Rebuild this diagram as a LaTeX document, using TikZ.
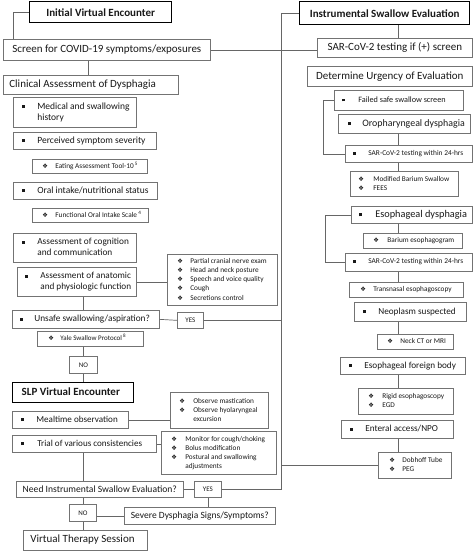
\documentclass[tikz,border=0pt]{standalone}
\usepackage{fontspec}
\setmainfont{Carlito}
\newfontfamily\dejavu{DejaVu Sans}
\newcommand\sqb[1]{\makebox[#1][l]{\rule[0.2ex]{2.8pt}{2.8pt}}}
\newcommand\dmb[1]{\makebox[#1][l]{\dejavu\fontsize{6.3}{6}\selectfont ❖}}
\newcommand\fsz[2]{\fontsize{#1}{#2}\selectfont}
\tikzset{
  box/.style={draw=black!55, line width=0.7pt, inner ysep=0pt, text=black!90, rectangle},
  hdr/.style={draw=black, line width=1.4pt, font=\bfseries\fsz{11}{13}},
  ln/.style={draw=black!60, line width=0.7pt},
}
% centered box: name x1 y1 x2 y2 options text
\newcommand\cbx[7]{\node[box,#6,anchor=north west,minimum width={#4-#2},minimum height={#5-#3}] (#1) at (#2,#3) {#7};}
% left box: name x1 y1 x2 y2 pad options lines
\newcommand\lbx[8]{\node[box,#7,anchor=north west,minimum width={#4-#2},minimum height={#5-#3},inner xsep=0pt] (#1) at (#2,#3) {\makebox[\dimexpr #4pt-#2pt\relax][l]{\hspace*{#6pt}\begin{tabular}{@{}l@{}}#8\end{tabular}}};}
\begin{document}
\begin{tikzpicture}[x=1pt,y=-1pt]
\useasboundingbox (0,0) rectangle (474,552);
\fill[white] (0,0) rectangle (474,552);
% ---------- left column
\cbx{ive}{29}{1}{171}{22}{hdr}{Initial Virtual Encounter}
\cbx{scr}{3}{39}{210}{60}{font=\fsz{11}{13}}{Screen for COVID-19 symptoms/exposures}
\lbx{cli}{3}{75}{178}{94}{6}{font=\fsz{11}{13}}{Clinical Assessment of Dysphagia}
\lbx{med}{13}{97}{136}{127}{9}{font=\fsz{9.5}{11}}{\sqb{15pt}Medical and swallowing\\\hspace*{15pt}history}
\lbx{per}{13}{132}{156}{149}{9}{font=\fsz{9.5}{11}}{\sqb{15pt}Perceived symptom severity}
\lbx{eat}{32}{159}{147}{173}{10}{font=\fsz{7.3}{8}}{\dmb{13pt}Eating Assessment Tool-10\,\textsuperscript{5}}
\lbx{ora}{13}{182}{157}{199}{9}{font=\fsz{9.5}{11}}{\sqb{15pt}Oral intake/nutritional status}
\lbx{foi}{32}{208}{148}{222}{10}{font=\fsz{7.3}{8}}{\dmb{13pt}Functional Oral Intake Scale\,\textsuperscript{4}}
\lbx{cog}{13}{233}{136}{262}{9}{font=\fsz{9.3}{11}}{\sqb{15pt}Assessment of cognition\\\hspace*{15pt}and communication}
\lbx{ana}{17}{267}{136}{296}{8}{font=\fsz{9.2}{11}}{\sqb{15pt}Assessment of anatomic\\\hspace*{15pt}and physiologic function}
\lbx{cra}{167}{254}{277}{305}{10}{font=\fsz{7.3}{9.2}}{\dmb{13pt}Partial cranial nerve exam\\\dmb{13pt}Head and neck posture\\\dmb{13pt}Speech and voice quality\\\dmb{13pt}Cough\\\dmb{13pt}Secretions control}
\lbx{uns}{12}{310}{159}{328}{8}{font=\fsz{9.3}{11}}{\sqb{14pt}Unsafe swallowing/aspiration?}
\cbx{yes1}{177}{312}{203}{328}{font=\fsz{7}{8}}{YES}
\lbx{yal}{37}{331}{143}{346}{11}{font=\fsz{7}{8}}{\dmb{12pt}Yale Swallow Protocol\,\textsuperscript{8}}
\cbx{no1}{69}{356}{97}{373}{font=\fsz{7}{8}}{NO}
\lbx{slp}{12}{382}{133}{402}{9}{hdr}{SLP Virtual Encounter}
\lbx{mea}{12}{411}{128}{428}{9}{font=\fsz{9.1}{11}}{\sqb{15pt}Mealtime observation}
\lbx{obs}{170}{392}{268}{428}{9}{font=\fsz{7.3}{9}}{\dmb{14pt}Observe mastication\\\dmb{14pt}Observe hyolaryngeal\\\hspace*{14pt}excursion}
\lbx{tri}{12}{435}{156}{452}{9}{font=\fsz{9.1}{11}}{\sqb{16pt}Trial of various consistencies}
\lbx{mon}{161}{431}{276}{474}{10}{font=\fsz{7.3}{9}}{\dmb{14pt}Monitor for cough/choking\\\dmb{14pt}Bolus modification\\\dmb{14pt}Postural and swallowing\\\hspace*{14pt}adjustments}
\cbx{need}{16}{481}{183}{497}{font=\fsz{9.6}{11}}{Need Instrumental Swallow Evaluation?}
\cbx{yes2}{194}{481}{221}{497}{font=\fsz{7}{8}}{YES}
\cbx{sev}{124}{507}{275}{524}{font=\fsz{9.5}{11}}{Severe Dysphagia Signs/Symptoms?}
\cbx{no2}{69}{504}{96}{521}{font=\fsz{7}{8}}{NO}
\lbx{vts}{23}{530}{147}{550}{7}{font=\fsz{11}{13}}{Virtual Therapy Session}
% ---------- right column
\cbx{ise}{299}{1}{469}{24}{hdr}{Instrumental Swallow Evaluation}
\cbx{sarp}{317}{38}{472}{57}{font=\fsz{11}{13}}{SAR-CoV-2 testing if (+) screen}
\cbx{det}{307}{66}{472}{86}{font=\fsz{11}{13}}{Determine Urgency of Evaluation}
\lbx{fai}{334}{90}{463}{110}{8}{font=\fsz{8.2}{9}}{\sqb{16pt}Failed safe swallow screen}
\lbx{oro}{338}{114}{470}{133}{10}{font=\fsz{9.9}{11}}{\sqb{14pt}Oropharyngeal dysphagia}
\lbx{sa}{345}{145}{472}{162}{8}{font=\fsz{7.4}{8}}{\sqb{15pt}SAR-CoV-2 testing within 24-hrs}
\lbx{mod}{350}{171}{458}{196}{8}{font=\fsz{7.3}{9}}{\dmb{15pt}Modified Barium Swallow\\\dmb{15pt}FEES}
\lbx{eso}{351}{206}{472}{223}{8}{font=\fsz{10.3}{12}}{\sqb{16pt}Esophageal dysphagia}
\lbx{bar}{363}{233}{462}{248}{10}{font=\fsz{7.3}{8}}{\dmb{14pt}Barium esophagogram}
\lbx{sb}{345}{253}{472}{271}{8}{font=\fsz{7.4}{8}}{\sqb{15pt}SAR-CoV-2 testing within 24-hrs}
\lbx{tra}{349}{282}{463}{297}{11}{font=\fsz{7.3}{8}}{\dmb{13pt}Transnasal esophagoscopy}
\lbx{neo}{354}{302}{466}{321}{9}{font=\fsz{9.2}{11}}{\sqb{15pt}Neoplasm suspected}
\lbx{nec}{377}{334}{453}{349}{10}{font=\fsz{7.3}{8}}{\dmb{13pt}Neck CT or MRI}
\lbx{efb}{340}{357}{465}{374}{9}{font=\fsz{9.2}{11}}{\sqb{15pt}Esophageal foreign body}
\lbx{rig}{358}{388}{453}{414}{10}{font=\fsz{7.3}{9}}{\dmb{14pt}Rigid esophagoscopy\\\dmb{14pt}EGD}
\lbx{ent}{341}{420}{453}{438}{9}{font=\fsz{9.2}{11}}{\sqb{15pt}Enteral access/NPO}
\lbx{dob}{378}{452}{451}{478}{11}{font=\fsz{7.3}{9}}{\dmb{13pt}Dobhoff Tube\\\dmb{13pt}PEG}
% ---------- helper coordinates
\coordinate (sp) at (281,0);
\coordinate (rc) at (398,0);
\coordinate (lc) at (83,0);
\coordinate (c88) at (88,0);
\coordinate (c323) at (323,0);
\coordinate (c325) at (325,0);
% ---------- connectors, left
\draw[ln] (ive.west) -| ([xshift=10]scr.north west);
\draw[ln] (scr.east) -- (scr.east -| sarp.west);
\draw[ln] (scr.south -| c88) -- (cli.north -| c88);
\draw[ln] (ana.east) -- (ana.east -| cra.west);
\draw[ln] (ana.south -| lc) -- (uns.north -| lc);
\draw[ln] (uns.east) -- (yes1.west);
\draw[ln] (yes1.east) -- (yes1.east -| sp);
\draw[ln] (yal.south -| lc) -- (no1.north -| lc);
\draw[ln] (no1.south -| lc) -- (slp.north -| lc);
\draw[ln] (mea.east) -- (mea.east -| obs.west);
\draw[ln] (tri.east) -- (tri.east -| mon.west);
\draw[ln] (tri.south -| lc) -- (need.north -| lc);
\draw[ln] (need.east) -- (yes2.west);
\draw[ln] (ise.west) -| (yes2.east -| sp) -- (yes2.east);
\draw[ln] (yes2.south) -- (yes2.south |- sev.north);
\draw[ln] (need.south -| lc) -- (no2.north -| lc);
\draw[ln] (no2.south -| lc) -- (vts.north -| lc);
\draw[ln] (sev.west -| no2.east) -- (sev.west);
\draw[ln] (dob.west -| sp) -- (dob.west);
% ---------- connectors, right
\draw[ln] (ise.south -| rc) -- (sarp.north -| rc);
\draw[ln] (fai.west) -- (fai.west -| c323) -- (c323 |- sa.west) -- (sa.west);
\draw[ln] (oro.south -| rc) -- (sa.north -| rc);
\draw[ln] (sa.south -| rc) -- (mod.north -| rc);
\draw[ln] (eso.west) -- (eso.west -| c325) -- (c325 |- sb.west) -- (sb.west);
\draw[ln] (eso.south -| rc) -- (bar.north -| rc);
\draw[ln] (sb.south -| rc) -- (tra.north -| rc);
\draw[ln] (neo.south -| rc) -- (nec.north -| rc);
\draw[ln] (efb.south -| rc) -- (rig.north -| rc);
\draw[ln] (ent.south -| rc) -- (dob.north -| rc);
\end{tikzpicture}
\end{document}
